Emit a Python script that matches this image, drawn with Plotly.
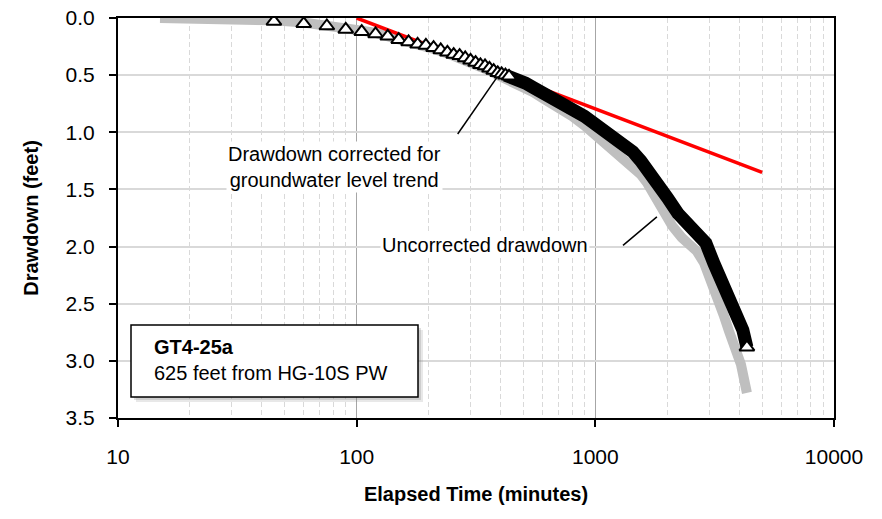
import math
import plotly.graph_objects as go

# ---------------- data ----------------
# Corrected drawdown (open black triangles)
time_corr = [45, 60, 75, 90, 105, 120, 135, 150, 165, 180, 195, 210, 225, 240,
             255, 270, 285, 300, 315, 330, 345, 360, 375, 390, 405, 420, 435,
             450, 480, 510, 550, 600, 650, 700, 760, 820, 900, 1000, 1100, 1200,
             1300, 1435, 1550, 1650, 1811, 2000, 2218, 2400, 2612, 2904, 3142,
             3400, 3631, 3900, 4150, 4316]
dd_corr = [0.03, 0.05, 0.07, 0.10, 0.12, 0.14, 0.16, 0.19, 0.21, 0.23, 0.24, 0.26,
           0.28, 0.30, 0.32, 0.33, 0.35, 0.37, 0.39, 0.41, 0.42, 0.44, 0.46, 0.48,
           0.49, 0.50, 0.51, 0.52, 0.54, 0.57, 0.61, 0.65, 0.68, 0.72, 0.76, 0.80,
           0.86, 0.93, 0.99, 1.05, 1.10, 1.17, 1.25, 1.32, 1.42, 1.57, 1.71, 1.79,
           1.86, 1.97, 2.15, 2.30, 2.44, 2.59, 2.73, 2.88]

# Uncorrected drawdown (grey)
time_unc = [15, 30, 45, 60, 75, 90, 105, 120, 150, 180, 210, 240, 270, 300, 330,
            360, 390, 420, 450, 500, 550, 600, 700, 800, 900, 1000, 1100, 1200,
            1300, 1435, 1550, 1644, 1750, 1901, 2100, 2300, 2500, 2660, 2850, 3000,
            3266, 3450, 3631, 3850, 4074, 4316]
dd_unc = [0.00, 0.00, 0.02, 0.04, 0.06, 0.08, 0.11, 0.13, 0.18, 0.23, 0.27, 0.31,
          0.35, 0.38, 0.42, 0.46, 0.50, 0.53, 0.55, 0.60, 0.65, 0.70, 0.78, 0.86,
          0.94, 1.02, 1.09, 1.16, 1.22, 1.30, 1.37, 1.44, 1.54, 1.68, 1.82, 1.92,
          1.99, 2.04, 2.14, 2.25, 2.46, 2.60, 2.74, 2.88, 3.03, 3.28]

# Straight-line (Cooper-Jacob) fit
fit_time = [100, 5000]
fit_dd = [0.0, 1.35]

# Leader lines for the labels
lead1_time = [265, 387]
lead1_dd = [1.015, 0.52]
lead2_time = [1306, 1811]
lead2_dd = [1.99, 1.74]

x_tick_vals = [10, 100, 1000, 10000]
x_tick_text = ["10", "100", "1000", "10000"]
x_minor_vals = [k * 10 ** d for d in range(1, 4) for k in range(2, 10)]

FONT = "Arial, Liberation Sans, sans-serif"

fig = go.Figure()

# grey uncorrected band
fig.add_trace(go.Scatter(x=time_unc, y=dd_unc, mode="lines",
                         line=dict(color="#bfbfbf", width=10),
                         hoverinfo="skip"))
sel_u = [i for i, t in enumerate(time_unc) if 30 <= t <= 420]
fig.add_trace(go.Scatter(x=[time_unc[i] for i in sel_u], y=[dd_unc[i] for i in sel_u],
                         mode="markers",
                         marker=dict(symbol="triangle-up", size=10, color="#bfbfbf"),
                         hoverinfo="skip"))

# red fit line
fig.add_trace(go.Scatter(x=fit_time, y=fit_dd, mode="lines",
                         line=dict(color="#ff0000", width=3.5), hoverinfo="skip"))

# dense part of corrected drawdown -> solid black band
dense = [i for i, t in enumerate(time_corr) if t >= 420]
fig.add_trace(go.Scatter(x=[time_corr[i] for i in dense], y=[dd_corr[i] for i in dense],
                         mode="lines", line=dict(color="black", width=13),
                         hoverinfo="skip"))
# open triangles (sparse part + final point)
sparse = [i for i, t in enumerate(time_corr) if t <= 435] + [len(time_corr) - 1]
fig.add_trace(go.Scatter(x=[time_corr[i] for i in sparse], y=[dd_corr[i] for i in sparse],
                         mode="markers",
                         marker=dict(symbol="triangle-up", size=13, color="white",
                                     line=dict(color="black", width=2)),
                         hoverinfo="skip"))

# leader lines
for lx, ly in ((lead1_time, lead1_dd), (lead2_time, lead2_dd)):
    fig.add_trace(go.Scatter(x=lx, y=ly, mode="lines",
                             line=dict(color="black", width=1.5), hoverinfo="skip"))

fig.add_annotation(x=math.log10(81), y=1.30, xref="x", yref="y",
                   text="Drawdown corrected for<br>groundwater level trend",
                   showarrow=False, bgcolor="white", align="center",
                   font=dict(family=FONT, size=20, color="black"))
fig.add_annotation(x=math.log10(344), y=1.99, xref="x", yref="y",
                   text="Uncorrected drawdown",
                   showarrow=False, bgcolor="white", align="center",
                   font=dict(family=FONT, size=20, color="black"))

# info box with shadow
W, H = 716.0, 400.0
def px(x): return (x - 118) / W
def py(y): return (418 - y) / H
for off, op in ((5, 0.18), (3, 0.25)):
    fig.add_shape(type="rect", xref="paper", yref="paper",
                  x0=px(131 + off), x1=px(418 + off), y0=py(397 + off), y1=py(325 + off),
                  fillcolor="#808080", opacity=op, line=dict(width=0), layer="above")
fig.add_shape(type="rect", xref="paper", yref="paper",
              x0=px(131), x1=px(418), y0=py(397), y1=py(325),
              fillcolor="white", line=dict(color="black", width=1.5), layer="above")
fig.add_annotation(x=px(152), y=py(360), xref="paper", yref="paper",
                   xanchor="left", yanchor="middle", align="left",
                   text="<b>GT4-25a</b><br>625 feet from HG-10S PW",
                   showarrow=False, font=dict(family=FONT, size=20, color="black"))

fig.update_layout(
    width=882, height=519,
    margin=dict(l=118, r=48, t=18, b=101),
    paper_bgcolor="white", plot_bgcolor="white",
    showlegend=False,
    font=dict(family=FONT, size=20, color="black"),
    xaxis=dict(type="log", range=[1, 4], tickvals=x_tick_vals, ticktext=x_tick_text,
               tickfont=dict(size=21),
               showgrid=True, gridcolor="#a6a6a6", gridwidth=1.3,
               minor=dict(tickvals=x_minor_vals, showgrid=True, gridcolor="#d9d9d9",
                          griddash="5px,3px", gridwidth=1.3, ticks=""),
               showline=True, linecolor="black", linewidth=2, mirror=True,
               ticks="outside", ticklen=7, tickwidth=2, tickcolor="black",
               ticklabelstandoff=12,
               title=dict(text="<b>Elapsed Time (minutes)</b>", standoff=20,
                          font=dict(family=FONT, size=20)),
               automargin=False, zeroline=False),
    yaxis=dict(range=[3.5, 0], dtick=0.5, tick0=0, tickformat=".1f",
               tickfont=dict(size=21),
               showgrid=True, gridcolor="#d9d9d9", gridwidth=2,
               showline=True, linecolor="black", linewidth=2, mirror=True,
               ticks="outside", ticklen=7, tickwidth=2, tickcolor="black",
               ticklabelstandoff=10,
               title=dict(text="<b>Drawdown (feet)</b>", standoff=22,
                          font=dict(family=FONT, size=20)),
               automargin=False, zeroline=False),
)

fig.write_html("out.html")
